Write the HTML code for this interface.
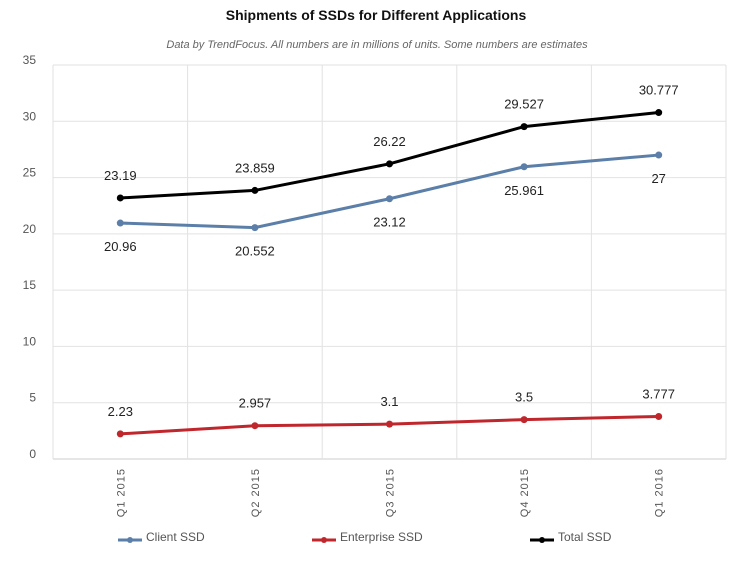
<!DOCTYPE html>
<html><head><meta charset="utf-8"><style>
body{margin:0;background:#fff;}
svg text{font-family:"Liberation Sans",sans-serif;}
</style></head><body>
<svg width="740" height="558" id="c">
<text x="376" y="20" text-anchor="middle" font-size="14" font-weight="bold" fill="#111">Shipments of SSDs for Different Applications</text>
<text x="377" y="48" text-anchor="middle" font-size="11" font-style="italic" fill="#666">Data by TrendFocus. All numbers are in millions of units. Some numbers are estimates</text>
<g id="grid"></g><g id="marks"></g>
</svg>
<script>
const categories=["Q1 2015","Q2 2015","Q3 2015","Q4 2015","Q1 2016"];
const clientSSD=[20.96,20.552,23.12,25.961,27];
const enterpriseSSD=[2.23,2.957,3.1,3.5,3.777];
const totalSSD=[23.19,23.859,26.22,29.527,30.777];
const clientLabels=["20.96","20.552","23.12","25.961","27"];
const enterpriseLabels=["2.23","2.957","3.1","3.5","3.777"];
const totalLabels=["23.19","23.859","26.22","29.527","30.777"];
const yTicks=[0,5,10,15,20,25,30,35];
const NS="http://www.w3.org/2000/svg";
const L=53,R=726,T=65,B=459,yMax=35;
const bw=(R-L)/categories.length;
const x=i=>L+bw*(i+0.5);
const y=v=>B-(v/yMax)*(B-T);
const grid=document.getElementById('grid'),marks=document.getElementById('marks');
function mk(p,tag,a,txt){const e=document.createElementNS(NS,tag);for(const k in a)e.setAttribute(k,a[k]);if(txt!=null)e.textContent=txt;p.appendChild(e);return e;}
yTicks.forEach(t=>{
 const g=mk(grid,'line',{x1:L,x2:R,y1:y(t),y2:y(t),stroke:t===0?'#ccc':'#e2e2e2','stroke-width':1});
 
 
 const l=mk(grid,'text',{x:36,y:y(t)-1,'text-anchor':'end','font-size':12,fill:'#555'},t);
 
 
});
for(let i=0;i<=categories.length;i++){
 const g=mk(grid,'line',{x1:L+bw*i,x2:L+bw*i,y1:T,y2:B,stroke:'#e2e2e2','stroke-width':1});
 
 
}
categories.forEach((c,i)=>{
 const t=mk(grid,'text',{transform:`translate(${x(i)+4},468) rotate(-90)`,'text-anchor':'end','font-size':11,fill:'#555','letter-spacing':'1'},c);
 
 
});
function series(vals,labels,color,name,labelAbove){
 const p=mk(marks,'polyline',{points:vals.map((v,i)=>x(i)+','+y(v)).join(' '),fill:'none',stroke:color,'stroke-width':3});
 
 
 vals.forEach((v,i)=>{
  const d=mk(marks,'circle',{cx:x(i),cy:y(v),r:3.5,fill:color});
  
  
  const t=mk(marks,'text',{x:x(i),y:labelAbove?y(v)-18:y(v)+28,'text-anchor':'middle','font-size':13,fill:'#222'},labels[i]);
  
  
 });
}
series(clientSSD,clientLabels,'#5b7fa8','client-ssd',false);
series(enterpriseSSD,enterpriseLabels,'#c0272d','enterprise-ssd',true);
series(totalSSD,totalLabels,'#000','total-ssd',true);
const legend=[["Client SSD",'#5b7fa8',118],["Enterprise SSD",'#c0272d',312],["Total SSD",'#000',530]];
legend.forEach(([n,c,lx])=>{
 const g=mk(marks,'g',{});
 
 
 mk(g,'line',{x1:lx,x2:lx+24,y1:540,y2:540,stroke:c,'stroke-width':3});
 mk(g,'circle',{cx:lx+12,cy:540,r:3,fill:c});
 mk(g,'text',{x:lx+28,y:541,'font-size':12,fill:'#555'},n);
});
</script>
</body></html>
